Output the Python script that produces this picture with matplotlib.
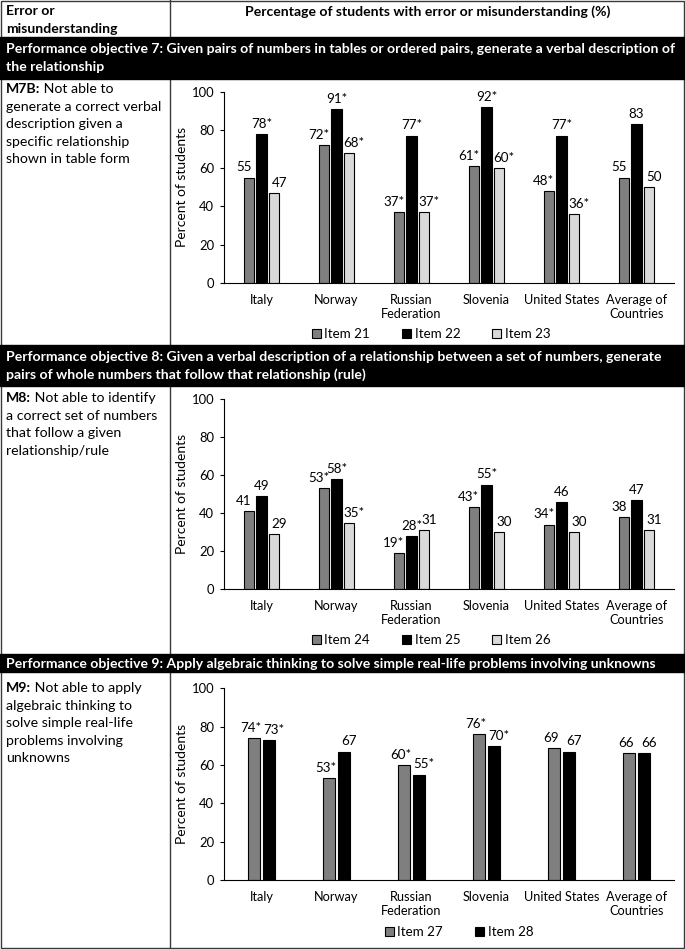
import matplotlib
matplotlib.use("Agg")
import matplotlib.pyplot as plt
import numpy as np
from matplotlib.patches import Rectangle, Patch

plt.rcParams['font.family'] = ['Lato', 'DejaVu Sans']

# Figure size in pixels
W, H = 685, 949

# Chart data
countries = ["Italy", "Norway", "Russian\nFederation", "Slovenia", "United States", "Average of\nCountries"]

# Objective 7
item21 = [55, 72, 37, 61, 48, 55]
item22 = [78, 91, 77, 92, 77, 83]
item23 = [47, 68, 37, 60, 36, 50]
star21 = [0, 1, 1, 1, 1, 0]
star22 = [1, 1, 1, 1, 1, 0]
star23 = [0, 1, 1, 1, 1, 0]

# Objective 8
item24 = [41, 53, 19, 43, 34, 38]
item25 = [49, 58, 28, 55, 46, 47]
item26 = [29, 35, 31, 30, 30, 31]
star24 = [0, 1, 1, 1, 1, 0]
star25 = [0, 1, 1, 1, 0, 0]
star26 = [0, 1, 0, 0, 0, 0]

# Objective 9
item27 = [74, 53, 60, 76, 69, 66]
item28 = [73, 67, 55, 70, 67, 66]
star27 = [1, 1, 1, 1, 0, 0]
star28 = [1, 0, 1, 1, 0, 0]

# Text of the table
header_left = ["Error or", "misunderstanding"]
header_right = "Percentage of students with error or misunderstanding (%)"
band7 = ["Performance objective 7: Given pairs of numbers in tables or ordered pairs, generate a verbal description of",
         "the relationship"]
band8 = ["Performance objective 8: Given a verbal description of a relationship between a set of numbers, generate",
         "pairs of whole numbers that follow that relationship (rule)"]
band9 = ["Performance objective 9: Apply algebraic thinking to solve simple real-life problems involving unknowns"]
desc7 = ("M7B:", [" Not able to", "generate a correct verbal", "description given a",
                  "specific relationship", "shown in table form"])
desc8 = ("M8:", [" Not able to identify", "a correct set of numbers", "that follow a given",
                 "relationship/rule"])
desc9 = ("M9:", [" Not able to apply", "algebraic thinking to", "solve simple real-life",
                 "problems involving", "unknowns"])

GRAY = "#7f7f7f"
LIGHT = "#d9d9d9"

fig = plt.figure(figsize=(W / 100, H / 100), dpi=100)

# background axes in pixel coordinates for the table
bg = fig.add_axes([0, 0, 1, 1])
bg.set_xlim(0, W)
bg.set_ylim(H, 0)
bg.axis('off')

line_col = "#3a3a3a"
bg.add_patch(Rectangle((0.5, 0.5), W - 1.5, H - 2, fill=False, ec=line_col, lw=1))
bg.plot([170, 170], [0, H - 1.5], color=line_col, lw=1)

# black bands
for top, bot in [(37, 79), (345, 386), (654, 672)]:
    bg.add_patch(Rectangle((0, top), W, bot - top, color="black", zorder=3))

HF = 10.1  # header / band font size

# header
bg.text(6, 15, header_left[0], fontsize=HF, fontweight='bold', va='baseline')
bg.text(6, 33, header_left[1], fontsize=HF, fontweight='bold', va='baseline')
bg.text(428, 16, header_right, fontsize=HF, fontweight='bold', va='baseline', ha='center')

# band text
def band_text(lines, y0):
    for i, s in enumerate(lines):
        bg.text(6, y0 + i * 18, s, fontsize=HF, fontweight='bold', color='white',
                va='baseline', zorder=4)

band_text(band7, 53)
band_text(band8, 361)
band_text(band9, 668)

# left column descriptions (bold code, then plain text)
def desc_text(desc, y0):
    code, lines = desc
    t = bg.text(6, y0, code, fontsize=10.2, fontweight='bold', va='bottom')
    bg.annotate(lines[0], xy=(1, 0), xycoords=t, va='bottom', ha='left', fontsize=10.2)
    for i, s in enumerate(lines[1:], start=1):
        bg.text(6, y0 + i * 17.6, s, fontsize=10.2, va='bottom')

desc_text(desc7, 95)
desc_text(desc8, 404)
desc_text(desc9, 694)


def px_rect(left, top, right, bottom):
    return [left / W, 1 - bottom / H, (right - left) / W, (bottom - top) / H]


def draw_chart(rect, series, stars, colors, names, offsets, width, dxs, leg_x, leg_y):
    ax = fig.add_axes(px_rect(*rect))
    x = np.arange(len(countries))
    for vals, st, c, name, off, dx in zip(series, stars, colors, names, offsets, dxs):
        ax.bar(x + off, vals, width, color=c, edgecolor='black', linewidth=0.8, label=name, zorder=2)
        for xi, v, s in zip(x, vals, st):
            lab = f"{v}*" if s else str(v)
            ax.annotate(lab, (xi + off + dx, v), xytext=(0, 3), textcoords='offset points',
                        ha='center', va='bottom', fontsize=9.6)
    ax.set_xlim(-0.5, 5.5)
    ax.set_ylim(0, 100)
    ax.set_yticks([0, 20, 40, 60, 80, 100])
    ax.set_xticks(x)
    ax.set_xticklabels(countries)
    ax.tick_params(axis='x', length=0, pad=8, labelsize=9.2)
    ax.tick_params(axis='y', length=3, width=0.8, pad=4, labelsize=9.4)
    for sp in ['top', 'right']:
        ax.spines[sp].set_visible(False)
    for sp in ['left', 'bottom']:
        ax.spines[sp].set_linewidth(0.8)
    ax.set_ylabel("Percent of students", fontsize=10)
    ax.yaxis.set_label_coords(-0.08, 0.5)
    handles = [Patch(facecolor=c, edgecolor='black', linewidth=0.8) for c in colors]
    ax.legend(handles, names, ncol=len(names), frameon=False, fontsize=9.6,
              loc='center', bbox_to_anchor=(leg_x / W, 1 - leg_y / H),
              bbox_transform=fig.transFigure, columnspacing=2.4,
              handlelength=0.7, handleheight=0.7, handletextpad=0.25)
    return ax


draw_chart((224, 91.7, 674, 282.7), [item21, item22, item23], [star21, star22, star23],
           [GRAY, "black", LIGHT], ["Item 21", "Item 22", "Item 23"],
           [-0.167, 0, 0.167], 0.14, [-0.07, 0, 0.07], 431, 334)
draw_chart((224, 399, 674, 589.3), [item24, item25, item26], [star24, star25, star26],
           [GRAY, "black", LIGHT], ["Item 24", "Item 25", "Item 26"],
           [-0.167, 0, 0.167], 0.14, [-0.07, 0, 0.07], 431, 640)
draw_chart((224, 688.3, 674, 880), [item27, item28], [star27, star28],
           [GRAY, "black"], ["Item 27", "Item 28"],
           [-0.105, 0.105], 0.16, [-0.04, 0.06], 459, 932)

fig.savefig("out.png", dpi=100)
